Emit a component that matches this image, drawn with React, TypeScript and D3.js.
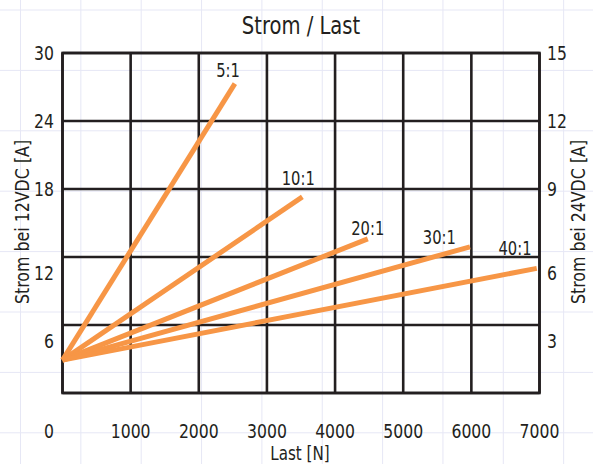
import React from "react";
import * as d3 from "d3";

const W = 593;
const H = 464;

// Data
const ratios = ["5:1", "10:1", "20:1", "30:1", "40:1"];
const startLoad = 0;
const startCurrent = 2.9;
const endLoad = [2530, 3520, 4480, 5980, 6960];
const endCurrent = [27.3, 17.3, 13.6, 12.9, 11.0];
const labelLoad = [2430, 3460, 4480, 5530, 6640];
const labelCurrent = [28.5, 19.0, 14.6, 13.8, 12.8];

const xTicks = [1000, 2000, 3000, 4000, 5000, 6000, 7000];
const yTicks = [0, 6, 12, 18, 24, 30];
const y2Ticks = [3, 6, 9, 12, 15];

const FONT = "'DejaVu Sans Condensed', 'DejaVu Sans', sans-serif";
const INK = "#231f20";
const ORANGE = "#f79646";

type TProps = {
  x: number;
  y: number;
  size: number;
  sx?: number;
  rot?: number;
  anchor?: "start" | "middle" | "end";
  children: React.ReactNode;
};

function T({ x, y, size, sx = 0.87, rot = 0, anchor = "middle", children }: TProps) {
  return (
    <text
      transform={`translate(${x},${y}) rotate(${rot}) scale(${sx},1)`}
      textAnchor={anchor}
      dominantBaseline="central"
      fontFamily={FONT}
      fontSize={size}
      fill={INK}
    >
      {children}
    </text>
  );
}

export default function App() {
  const x = d3.scaleLinear().domain([0, 7000]).range([62.5, 539.5]);
  const y = d3.scaleLinear().domain([0, 30]).range([393, 53]);
  const y2 = d3.scaleLinear().domain([0, 15]).range([393, 53]);
  const gridX = d3.range(0, 7001, 1000);
  const gridY = d3.range(0, 31, 6);
  const bgX = d3.range(20.5, W, 60.35);
  const bgY = d3.range(10, H, 60.4);
  const line = d3
    .line<[number, number]>()
    .x((d) => x(d[0]))
    .y((d) => y(d[1]));
  const labelShift = (v: number) => (v === 0 ? 38 : v <= 12 ? 16 : 0);

  return (
    <div style={{ position: "fixed", left: 0, top: 0 }}>
      <svg width={W} height={H} style={{ display: "block", background: "#fff" }}>
        <g stroke="#e6e7f5" strokeWidth={1}>
          {bgX.map((v, i) => (
            <line key={"bx" + i} x1={v} x2={v} y1={0} y2={H} />
          ))}
          {bgY.map((v, i) => (
            <line key={"by" + i} x1={0} x2={W} y1={v} y2={v} />
          ))}
        </g>
        <T x={301} y={25} size={25}>
          Strom / Last
        </T>
        <g stroke={INK} strokeWidth={2.6} fill="none">
          {gridX.map((v) => (
            <line key={"gx" + v} x1={x(v)} x2={x(v)} y1={y(30)} y2={y(0)} />
          ))}
          {gridY.map((v) => (
            <line key={"gy" + v} x1={x(0)} x2={x(7000)} y1={y(v)} y2={y(v)} />
          ))}
          <rect x={x(0)} y={y(30)} width={x(7000) - x(0)} height={y(0) - y(30)} />
        </g>
        <g>
          {ratios.map((r, i) => (
            <path
              key={r}
              d={line([
                [startLoad, startCurrent],
                [endLoad[i], endCurrent[i]],
              ]) as string}
              stroke={ORANGE}
              strokeWidth={5}
              fill="none"
            />
          ))}
        </g>
        {ratios.map((r, i) => (
          <T key={r} x={x(labelLoad[i])} y={y(labelCurrent[i])} size={20} sx={0.82}>
            {r}
          </T>
        ))}
        {xTicks.map((v) => (
          <T key={"xt" + v} x={x(v)} y={431} size={20}>
            {v}
          </T>
        ))}
        {yTicks.map((v) => (
          <T key={"yt" + v} x={54} y={y(v) + labelShift(v)} size={20} anchor="end">
            {v}
          </T>
        ))}
        {y2Ticks.map((v) => (
          <T key={"y2t" + v} x={547} y={y2(v) + labelShift(v * 2)} size={20} anchor="start">
            {v}
          </T>
        ))}
        <T x={300} y={453} size={20} sx={0.84}>
          Last [N]
        </T>
        <T x={22} y={222} size={20} sx={0.88} rot={-90}>
          Strom bei 12VDC [A]
        </T>
        <T x={578} y={222} size={20} sx={0.88} rot={-90}>
          Strom bei 24VDC [A]
        </T>
      </svg>
    </div>
  );
}
